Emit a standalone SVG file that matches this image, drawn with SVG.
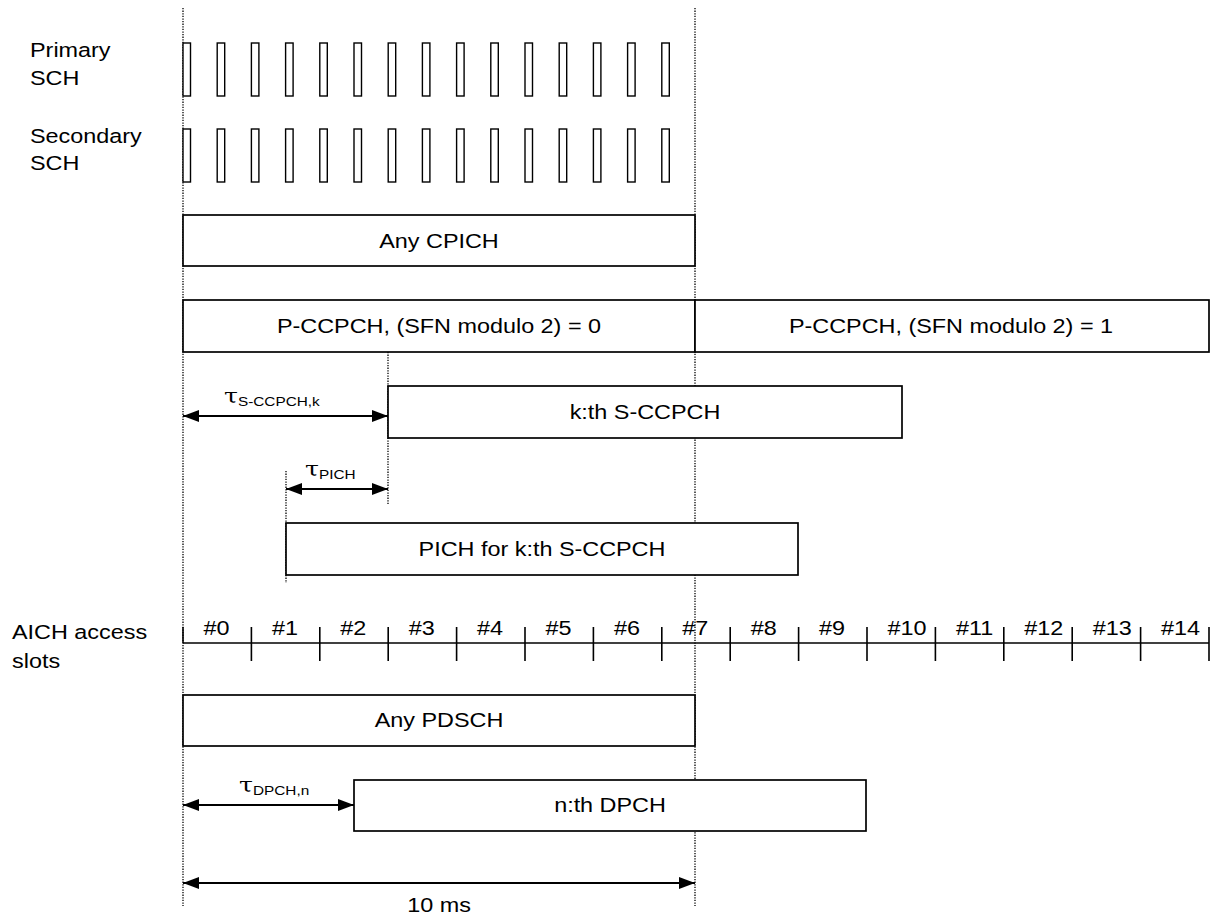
<svg xmlns="http://www.w3.org/2000/svg" width="1212" height="916" viewBox="0 0 1212 916">
<style>
text{font-family:"Liberation Sans",Arial,sans-serif;font-size:19.5px;fill:#000}
.c{text-anchor:middle}
.box{fill:#fff;stroke:#000;stroke-width:1.7}
.pulse{fill:#fff;stroke:#000;stroke-width:1.4}
.dot{stroke:#000;stroke-width:1.3;stroke-dasharray:1.3 1.3;fill:none}
.arr{stroke:#000;stroke-width:1.8;fill:none;marker-start:url(#ah);marker-end:url(#ah)}
.ax{stroke:#000;stroke-width:1.6;fill:none}
.tau{font-family:"DejaVu Serif","Liberation Serif",serif;font-size:21px}
.sub{font-size:12.8px}
</style>
<defs>
<marker id="ah" markerUnits="userSpaceOnUse" markerWidth="17" markerHeight="12" refX="16" refY="6" orient="auto-start-reverse">
<path d="M0,0 L16,6 L0,12 z" fill="#000"/>
</marker>
<rect id="p" width="7.5" height="53" class="pulse"/>
</defs>
<rect width="1212" height="916" fill="#fff"/>

<g id="guides">
<line class="dot" x1="183" y1="8" x2="183" y2="906"/>
<line class="dot" x1="695" y1="8" x2="695" y2="906"/>
<line class="dot" x1="388" y1="352" x2="388" y2="505"/>
<line class="dot" x1="286" y1="471" x2="286" y2="583"/>
</g>

<g id="labels">
<text transform="matrix(1.2,0,0,1,30,57)">Primary</text>
<text transform="matrix(1.2,0,0,1,30,85)">SCH</text>
<text transform="matrix(1.2,0,0,1,30,142.5)">Secondary</text>
<text transform="matrix(1.2,0,0,1,30,170)">SCH</text>
<text transform="matrix(1.2,0,0,1,12,639)">AICH access</text>
<text transform="matrix(1.2,0,0,1,12,668)">slots</text>
</g>

<g id="primary-sch">
<use href="#p" x="183" y="43"/><use href="#p" x="217.2" y="43"/><use href="#p" x="251.4" y="43"/><use href="#p" x="285.6" y="43"/><use href="#p" x="319.8" y="43"/><use href="#p" x="354" y="43"/><use href="#p" x="388.2" y="43"/><use href="#p" x="422.4" y="43"/><use href="#p" x="456.6" y="43"/><use href="#p" x="490.8" y="43"/><use href="#p" x="525" y="43"/><use href="#p" x="559.2" y="43"/><use href="#p" x="593.4" y="43"/><use href="#p" x="627.6" y="43"/><use href="#p" x="661.8" y="43"/>
</g>
<g id="secondary-sch">
<use href="#p" x="183" y="129"/><use href="#p" x="217.2" y="129"/><use href="#p" x="251.4" y="129"/><use href="#p" x="285.6" y="129"/><use href="#p" x="319.8" y="129"/><use href="#p" x="354" y="129"/><use href="#p" x="388.2" y="129"/><use href="#p" x="422.4" y="129"/><use href="#p" x="456.6" y="129"/><use href="#p" x="490.8" y="129"/><use href="#p" x="525" y="129"/><use href="#p" x="559.2" y="129"/><use href="#p" x="593.4" y="129"/><use href="#p" x="627.6" y="129"/><use href="#p" x="661.8" y="129"/>
</g>

<g id="cpich">
<rect class="box" x="183" y="215" width="512" height="51"/>
<text class="c" transform="matrix(1.2,0,0,1,439,247.5)">Any CPICH</text>
</g>
<g id="pccpch0">
<rect class="box" x="183" y="300" width="512" height="52"/>
<text class="c" transform="matrix(1.2,0,0,1,439,333)">P-CCPCH, (SFN modulo 2) = 0</text>
</g>
<g id="pccpch1">
<rect class="box" x="695" y="300" width="514" height="52"/>
<text class="c" transform="matrix(1.2,0,0,1,951,333)">P-CCPCH, (SFN modulo 2) = 1</text>
</g>
<g id="sccpch">
<rect class="box" x="388" y="386" width="514" height="52"/>
<text class="c" transform="matrix(1.2,0,0,1,645,419)">k:th S-CCPCH</text>
</g>
<g id="pich">
<rect class="box" x="286" y="523" width="512" height="52"/>
<text class="c" transform="matrix(1.2,0,0,1,542,556)">PICH for k:th S-CCPCH</text>
</g>

<g id="aich">
<line class="ax" x1="183" y1="643" x2="1209" y2="643"/>
<path class="ax" d="M183,627V643 M251.4,627V661 M319.8,627V661 M388.2,627V661 M456.6,627V661 M525,627V661 M593.4,627V661 M661.8,627V661 M730.2,627V661 M798.6,627V661 M867,627V661 M935.4,627V661 M1003.8,627V661 M1072.2,627V661 M1140.6,627V661 M1209,627V661"/>
<text transform="matrix(1.2,0,0,1,203.5,634.5)">#0</text>
<text transform="matrix(1.2,0,0,1,271.9,634.5)">#1</text>
<text transform="matrix(1.2,0,0,1,340.3,634.5)">#2</text>
<text transform="matrix(1.2,0,0,1,408.7,634.5)">#3</text>
<text transform="matrix(1.2,0,0,1,477.1,634.5)">#4</text>
<text transform="matrix(1.2,0,0,1,545.5,634.5)">#5</text>
<text transform="matrix(1.2,0,0,1,613.9,634.5)">#6</text>
<text transform="matrix(1.2,0,0,1,682.3,634.5)">#7</text>
<text transform="matrix(1.2,0,0,1,750.7,634.5)">#8</text>
<text transform="matrix(1.2,0,0,1,819.1,634.5)">#9</text>
<text transform="matrix(1.2,0,0,1,887.5,634.5)">#10</text>
<text transform="matrix(1.2,0,0,1,955.9,634.5)">#11</text>
<text transform="matrix(1.2,0,0,1,1024.3,634.5)">#12</text>
<text transform="matrix(1.2,0,0,1,1092.7,634.5)">#13</text>
<text transform="matrix(1.2,0,0,1,1161.1,634.5)">#14</text>
</g>

<g id="pdsch">
<rect class="box" x="183" y="695" width="512" height="51"/>
<text class="c" transform="matrix(1.2,0,0,1,439,727)">Any PDSCH</text>
</g>
<g id="dpch">
<rect class="box" x="354" y="780" width="512" height="51"/>
<text class="c" transform="matrix(1.2,0,0,1,610,812)">n:th DPCH</text>
</g>

<g id="connectors">
<line class="arr" x1="183" y1="416" x2="388" y2="416"/>
<line class="arr" x1="286" y1="489" x2="388" y2="489"/>
<line class="arr" x1="183" y1="805" x2="354" y2="805"/>
<line class="arr" x1="183" y1="883" x2="695" y2="883"/>
</g>

<g id="tau-labels">
<text transform="matrix(1.2,0,0,1,224,403)"><tspan class="tau">τ</tspan><tspan class="sub" dy="3">S-CCPCH,k</tspan></text>
<text transform="matrix(1.2,0,0,1,305,476)"><tspan class="tau">τ</tspan><tspan class="sub" dy="3">PICH</tspan></text>
<text transform="matrix(1.2,0,0,1,239,792)"><tspan class="tau">τ</tspan><tspan class="sub" dy="3">DPCH,n</tspan></text>
<text class="c" transform="matrix(1.2,0,0,1,439,912)">10 ms</text>
</g>
</svg>
